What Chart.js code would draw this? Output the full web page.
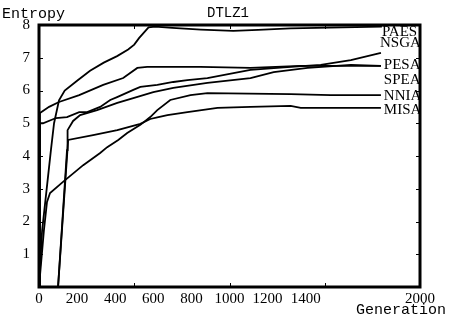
<!DOCTYPE html>
<html>
<head>
<meta charset="utf-8">
<script src="https://cdn.jsdelivr.net/npm/chart.js@4/dist/chart.umd.min.js"></script>
<style>
  html, body { margin: 0; padding: 0; background: #fff; }
  #wrap { width: 454px; height: 322px; position: relative; }
</style>
</head>
<body>
<div id="wrap"><canvas id="chart"></canvas></div>
<script>
// tick labels
const X_TICKS = [0, 200, 400, 600, 800, 1000, 1200, 1400, 2000];
const Y_TICKS = [1, 2, 3, 4, 5, 6, 7, 8];
const MINOR_X = [500, 1000, 1500];

// series (generation, entropy)
const PAES_X = [0, 16, 63, 79, 105, 135, 200, 268, 340, 410, 468, 500, 525, 575, 610, 700, 850, 1020, 1150, 1320, 1800];
const PAES_Y = [0, 1.7, 4.2, 5.0, 5.7, 6.0, 6.3, 6.6, 6.85, 7.05, 7.25, 7.4, 7.6, 7.93, 7.95, 7.91, 7.86, 7.82, 7.85, 7.9, 7.95];

const NSGA2_X = [0, 5, 21, 89, 147, 211, 253, 321, 374, 410, 495, 532, 621, 705, 779, 884, 1021, 1110, 1321, 1479, 1637, 1795];
const NSGA2_Y = [0, 5.0, 5.0, 5.16, 5.19, 5.34, 5.34, 5.5, 5.71, 5.8, 6.02, 6.11, 6.17, 6.26, 6.32, 6.38, 6.53, 6.63, 6.72, 6.78, 6.93, 7.15];

const PESA_X = [0, 5, 53, 105, 211, 337, 442, 516, 568, 847, 1110, 1374, 1795];
const PESA_Y = [0, 5.31, 5.5, 5.65, 5.86, 6.17, 6.38, 6.69, 6.72, 6.72, 6.69, 6.75, 6.75];

const SPEA_X = [100, 147, 150, 179, 216, 305, 411, 495, 600, 705, 884, 1110, 1232, 1410, 1637, 1795];
const SPEA_Y = [0, 4.18, 4.79, 5.07, 5.25, 5.4, 5.62, 5.77, 5.95, 6.08, 6.23, 6.38, 6.56, 6.69, 6.78, 6.75];

const NNIA_X = [0, 26, 42, 58, 126, 232, 321, 358, 416, 463, 532, 584, 621, 689, 795, 884, 1321, 1532, 1795];
const NNIA_Y = [0, 1.74, 2.6, 2.87, 3.21, 3.72, 4.09, 4.27, 4.49, 4.7, 4.95, 5.19, 5.4, 5.71, 5.86, 5.92, 5.89, 5.86, 5.86];

const MISA_X = [100, 153, 284, 411, 532, 584, 621, 674, 779, 937, 1110, 1321, 1374, 1795];
const MISA_Y = [0, 4.49, 4.64, 4.79, 4.98, 5.13, 5.18, 5.25, 5.34, 5.47, 5.5, 5.53, 5.47, 5.47];

// series names and where their labels sit (gen, entropy)
const NAMES = ['PAES', 'NSGA2', 'PESA', 'SPEA', 'NNIA', 'MISA'];
const LABEL_X = [1800, 1790, 1810, 1810, 1810, 1810];
const LABEL_Y = [7.79, 7.45, 6.78, 6.32, 5.83, 5.4];

const SERIES = [
  [PAES_X, PAES_Y], [NSGA2_X, NSGA2_Y], [PESA_X, PESA_Y],
  [SPEA_X, SPEA_Y], [NNIA_X, NNIA_Y], [MISA_X, MISA_Y],
];

const datasets = SERIES.map(([xs, ys], i) => ({
  label: NAMES[i],
  data: xs.map((x, j) => ({ x, y: ys[j] })),
  borderColor: '#000',
  borderWidth: 1.8,
  pointRadius: 0,
  tension: 0,
  fill: false,
}));

const MONO = "'Liberation Mono', monospace";
const SERIF = "'Liberation Serif', serif";

const frame = {
  id: 'frame',
  afterDraw(chart) {
    const { ctx, chartArea: a, scales: { x, y } } = chart;
    ctx.save();
    ctx.strokeStyle = '#000';
    ctx.fillStyle = '#000';

    // inward minor ticks
    ctx.lineWidth = 1;
    ctx.beginPath();
    Y_TICKS.slice(0, -1).forEach(v => {
      const py = Math.round(y.getPixelForValue(v)) + 0.5;
      ctx.moveTo(a.left, py); ctx.lineTo(a.left + 4, py);
      ctx.moveTo(a.right, py); ctx.lineTo(a.right - 4, py);
    });
    MINOR_X.forEach(v => {
      const px = Math.round(x.getPixelForValue(v)) + 0.5;
      ctx.moveTo(px, a.bottom); ctx.lineTo(px, a.bottom - 4);
      ctx.moveTo(px, a.top); ctx.lineTo(px, a.top + 4);
    });
    ctx.stroke();

    // box
    ctx.lineWidth = 3;
    ctx.strokeRect(a.left, a.top, a.right - a.left, a.bottom - a.top);

    // series names, clipped at the right border
    ctx.save();
    ctx.beginPath();
    ctx.rect(a.left, a.top, a.right - a.left - 1, a.bottom - a.top);
    ctx.clip();
    ctx.font = '15px ' + SERIF;
    ctx.textAlign = 'left';
    ctx.textBaseline = 'middle';
    NAMES.forEach((n, i) => {
      ctx.fillText(n, x.getPixelForValue(LABEL_X[i]), y.getPixelForValue(LABEL_Y[i]));
    });
    ctx.restore();

    // title and axis names
    ctx.font = '14px ' + MONO;
    ctx.textBaseline = 'middle';
    ctx.textAlign = 'center';
    ctx.fillText('DTLZ1', 228, 13);
    ctx.font = '15px ' + MONO;
    ctx.textAlign = 'left';
    ctx.fillText('Entropy', 2, 14);
    ctx.textAlign = 'right';
    ctx.fillText('Generation', 446, 310);
    ctx.restore();
  },
};

new Chart(document.getElementById('chart'), {
  type: 'line',
  data: { datasets },
  options: {
    responsive: true,
    maintainAspectRatio: false,
    animation: false,
    events: [],
    layout: { padding: { top: 25, right: 34, left: 0, bottom: 0 } },
    plugins: { legend: { display: false }, tooltip: { enabled: false } },
    scales: {
      x: {
        type: 'linear',
        min: 0,
        max: 2000,
        grid: { display: false, drawTicks: false },
        border: { display: false },
        afterBuildTicks: axis => { axis.ticks = X_TICKS.map(v => ({ value: v })); },
        afterFit: axis => { axis.height = 35; },
        ticks: {
          autoSkip: false,
          maxRotation: 0,
          padding: 3,
          color: '#000',
          font: { family: SERIF, size: 15 },
          callback: v => String(v),
        },
      },
      y: {
        type: 'linear',
        min: 0,
        max: 8,
        grid: { display: false, drawTicks: false },
        border: { display: false },
        afterBuildTicks: axis => { axis.ticks = Y_TICKS.map(v => ({ value: v })); },
        afterFit: axis => { axis.width = 39; },
        ticks: {
          padding: 9,
          color: '#000',
          font: { family: SERIF, size: 15 },
          callback: v => String(v),
        },
      },
    },
  },
  plugins: [frame],
});
</script>
</body>
</html>
